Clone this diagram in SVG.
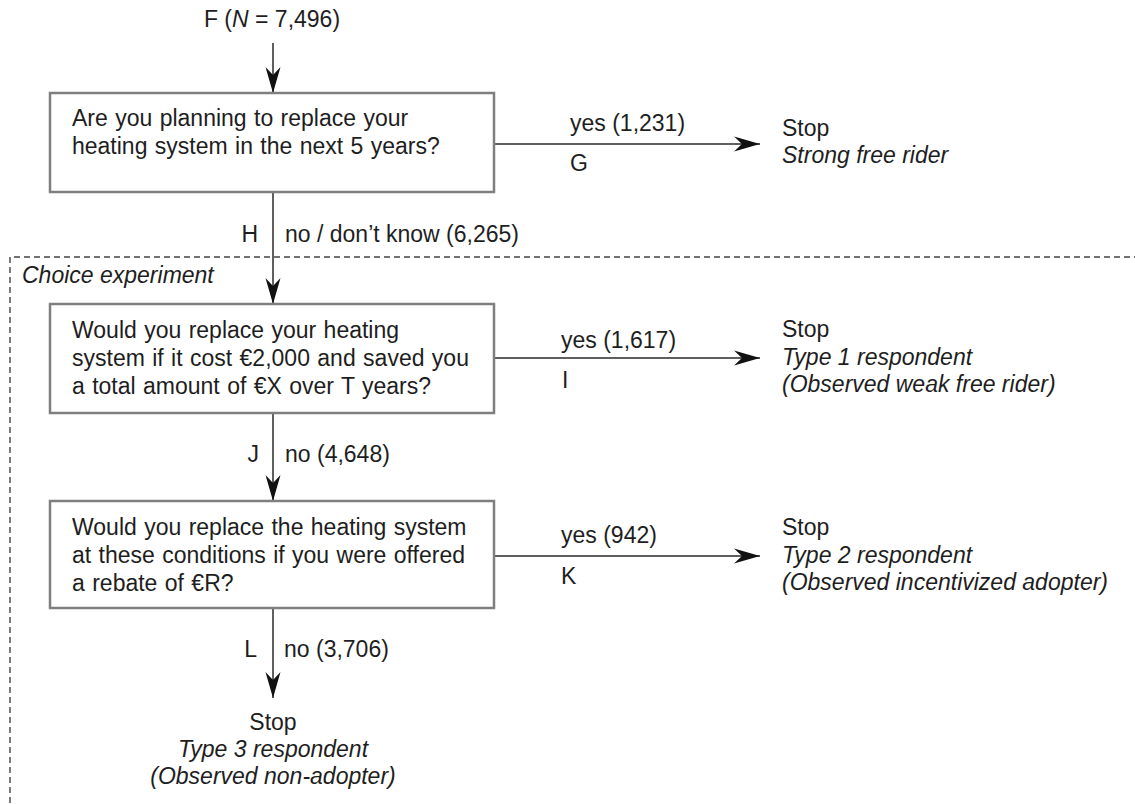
<svg xmlns="http://www.w3.org/2000/svg" width="1135" height="804" viewBox="0 0 1135 804">
<defs>
<style>
text{font-family:"Liberation Sans",Arial,sans-serif;font-size:23px;fill:#1e1e1e}
.it{font-style:italic}
.mid{text-anchor:middle}
.end{text-anchor:end}
.bt{word-spacing:1px}
.box{fill:#fff;stroke:#7f7f7f;stroke-width:2.5}
.con{fill:none;stroke:#2a2a2a;stroke-width:1.5}
.frame{fill:none;stroke:#444;stroke-width:1.4;stroke-dasharray:6 4}
</style>
<marker id="ah" markerUnits="userSpaceOnUse" viewBox="-27 -9 28 18" markerWidth="28" markerHeight="18" refX="0" refY="0" orient="auto">
<path d="M0,0 L-26,-7.5 L-18,0 L-26,7.5 Z" fill="#111"/>
</marker>
</defs>
<rect width="1135" height="804" fill="#fff"/>

<g id="frame">
<path class="frame" d="M1140,257 H10 V810"/>
<text class="it" x="22" y="283">Choice experiment</text>
</g>

<g id="connectors">
<line class="con" x1="273" y1="43" x2="273" y2="93" marker-end="url(#ah)"/>
<line class="con" x1="273" y1="192" x2="273" y2="304" marker-end="url(#ah)"/>
<line class="con" x1="273" y1="413" x2="273" y2="501" marker-end="url(#ah)"/>
<line class="con" x1="273" y1="608" x2="273" y2="698" marker-end="url(#ah)"/>
<line class="con" x1="494" y1="144" x2="760" y2="144" marker-end="url(#ah)"/>
<line class="con" x1="494" y1="358" x2="760" y2="358" marker-end="url(#ah)"/>
<line class="con" x1="494" y1="556" x2="760" y2="556" marker-end="url(#ah)"/>
<text x="570" y="131">yes (1,231)</text>
<text x="570" y="171">G</text>
<text class="end" x="258" y="242">H</text>
<text x="285" y="242">no / don’t know (6,265)</text>
<text x="561" y="348">yes (1,617)</text>
<text x="562" y="388">I</text>
<text class="end" x="259" y="462">J</text>
<text x="285" y="462">no (4,648)</text>
<text x="561" y="543">yes (942)</text>
<text x="561" y="584">K</text>
<text class="end" x="257" y="657">L</text>
<text x="284" y="657">no (3,706)</text>
</g>

<g id="start">
<text class="mid" x="272" y="27">F (<tspan class="it">N</tspan> = 7,496)</text>
</g>

<g id="q1">
<rect class="box" x="50" y="93" width="444" height="99"/>
<text class="bt" x="72" y="126">Are you planning to replace your</text>
<text class="bt" x="72" y="154">heating system in the next 5 years?</text>
</g>

<g id="q2">
<rect class="box" x="50" y="304" width="444" height="109"/>
<text class="bt" x="72" y="338">Would you replace your heating</text>
<text class="bt" x="72" y="366">system if it cost €2,000 and saved you</text>
<text class="bt" x="72" y="394">a total amount of €X over T years?</text>
</g>

<g id="q3">
<rect class="box" x="50" y="501" width="444" height="107"/>
<text class="bt" x="72" y="535">Would you replace the heating system</text>
<text class="bt" x="72" y="563">at these conditions if you were offered</text>
<text class="bt" x="72" y="591">a rebate of €R?</text>
</g>

<g id="stopG">
<text x="782" y="136">Stop</text>
<text class="it" x="782" y="163">Strong free rider</text>
</g>

<g id="stop1">
<text x="782" y="337">Stop</text>
<text class="it" x="782" y="365">Type 1 respondent</text>
<text class="it" x="782" y="392">(Observed weak free rider)</text>
</g>

<g id="stop2">
<text x="782" y="535">Stop</text>
<text class="it" x="782" y="563">Type 2 respondent</text>
<text class="it" x="782" y="590">(Observed incentivized adopter)</text>
</g>

<g id="stop3">
<text class="mid" x="273" y="730">Stop</text>
<text class="it mid" x="273" y="757">Type 3 respondent</text>
<text class="it mid" x="273" y="784">(Observed non-adopter)</text>
</g>
</svg>
